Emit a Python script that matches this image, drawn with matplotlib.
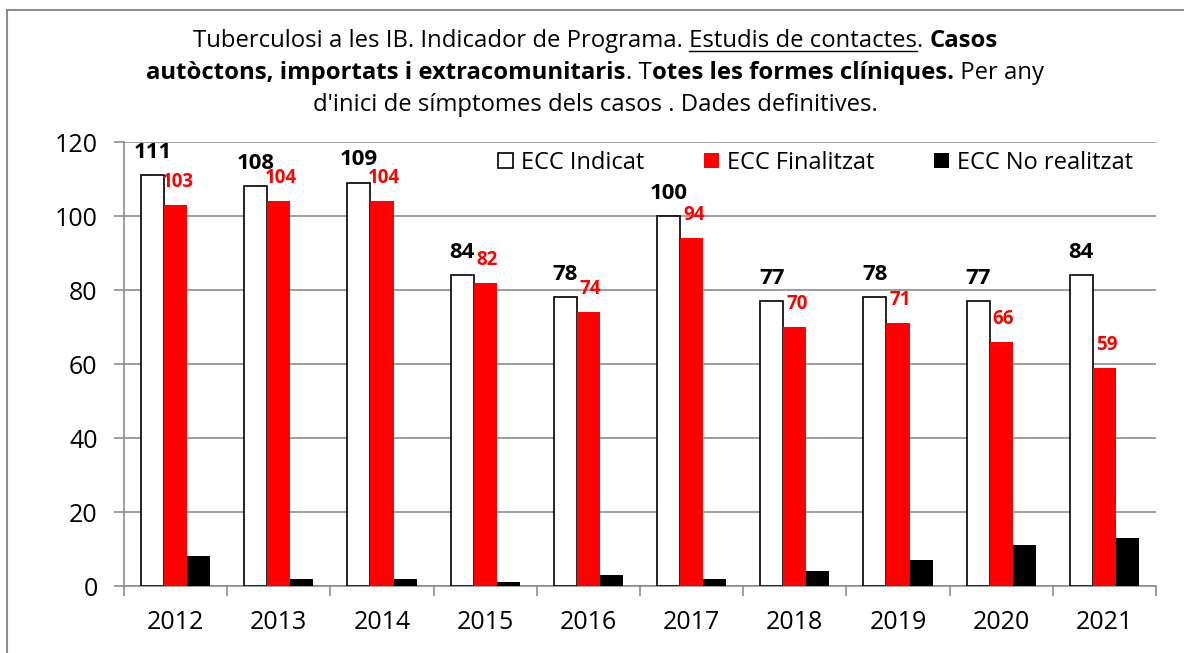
import numpy as np
import matplotlib.pyplot as plt
from matplotlib.patches import Rectangle

years = ["2012", "2013", "2014", "2015", "2016", "2017", "2018", "2019", "2020", "2021"]
indicat = [111, 108, 109, 84, 78, 100, 77, 78, 77, 84]
finalitzat = [103, 104, 104, 82, 74, 94, 70, 71, 66, 59]
no_realitzat = [8, 2, 2, 1, 3, 2, 4, 7, 11, 13]

plt.rcParams['font.family'] = ['Open Sans', 'DejaVu Sans']

fig = plt.figure(figsize=(11.84, 6.53), dpi=100)
ax = fig.add_axes([124 / 1184, 1 - 586 / 653, (1156 - 124) / 1184, 444 / 653])

# chart border
fig.patches.append(Rectangle((7 / 1184, -0.01), 1.02, 1 - 10 / 653 + 0.01,
                             transform=fig.transFigure, fill=False,
                             edgecolor="#8c8c8c", linewidth=1.5))

x = np.arange(len(years))
w = 0.223
ax.bar(x - w, indicat, w, color="white", edgecolor="black", linewidth=1.2,
       label="ECC Indicat", zorder=3)
ax.bar(x, finalitzat, w, color="#ff0000", label="ECC Finalitzat", zorder=3)
ax.bar(x + w, no_realitzat, w, color="black", label="ECC No realitzat", zorder=3)

for i in range(len(years)):
    ax.annotate(str(indicat[i]), (x[i] - w, indicat[i]), xytext=(0, 12.5),
                textcoords="offset points", ha="center", va="baseline",
                fontsize=16, fontweight="bold", color="black", zorder=4)
    ax.annotate(str(finalitzat[i]), (x[i], finalitzat[i]), xytext=(1.5, 13),
                textcoords="offset points", ha="center", va="baseline",
                fontsize=13.5, fontweight="bold", color="#ff0000", zorder=4)

ax.set_xlim(-0.5, len(years) - 0.5)
ax.set_ylim(0, 120)
ax.set_yticks(range(0, 121, 20))
ax.set_xticks(x)
ax.set_xticklabels(years)
ax.set_xticks(np.arange(-0.5, len(years), 1), minor=True)
ax.tick_params(axis="x", which="major", length=0, labelsize=18, pad=17)
ax.tick_params(axis="x", which="minor", length=7, color="#8c8c8c", width=1.2)
ax.tick_params(axis="y", length=7, color="#8c8c8c", width=1.2, labelsize=18, pad=12)
ax.grid(axis="y", color="#8c8c8c", linewidth=1.2, zorder=0)
for s in ["top", "right"]:
    ax.spines[s].set_visible(False)
for s in ["left", "bottom"]:
    ax.spines[s].set_color("#8c8c8c")
    ax.spines[s].set_linewidth(1.2)

leg = ax.legend(ncol=3, loc="center right", bbox_to_anchor=(0.978, 0.953),
                frameon=False, fontsize=17, handlelength=0.65, handleheight=0.65,
                handletextpad=0.35, columnspacing=2.5, borderpad=0, borderaxespad=0)

# title with mixed styles
lines = [
    [("Tuberculosi a les IB. Indicador de Programa. ", "normal", False),
     ("Estudis de contactes", "normal", True),
     (". ", "normal", False),
     ("Casos", "bold", False)],
    [("autòctons, importats i extracomunitaris", "bold", False),
     (". T", "normal", False),
     ("otes les formes clíniques.", "bold", False),
     (" Per any", "normal", False)],
    [("d'inici de símptomes dels casos . Dades definitives.", "normal", False)],
]
ys = [47, 79, 111]
fig.canvas.draw()
r = fig.canvas.get_renderer()
cx = 595
for line, yp in zip(lines, ys):
    parts = []
    total = 0
    for s, wt, ul in line:
        t = fig.text(0, 0, s, fontsize=17.2, fontweight=wt, va="baseline", ha="left")
        bb = t.get_window_extent(r)
        parts.append((t, bb.width, ul))
        total += bb.width
    xp = cx - total / 2
    for t, wd, ul in parts:
        t.set_position((xp / 1184, 1 - yp / 653))
        if ul:
            fig.add_artist(plt.Line2D([xp / 1184, (xp + wd) / 1184],
                                      [1 - (yp + 4) / 653] * 2,
                                      transform=fig.transFigure, color="black",
                                      linewidth=1))
        xp += wd

fig.savefig("out.png", dpi=100)
